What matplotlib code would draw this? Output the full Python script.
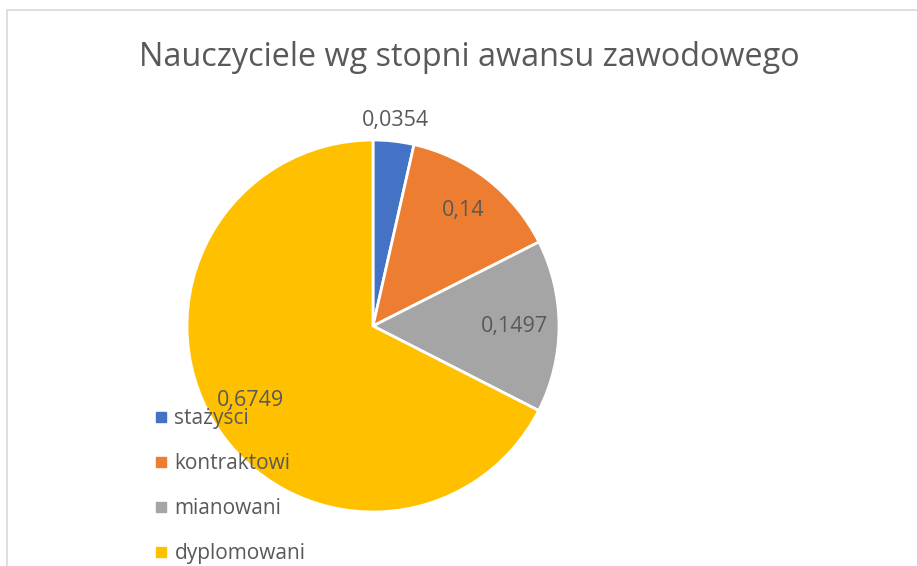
import matplotlib.pyplot as plt
from matplotlib.lines import Line2D
from matplotlib.patches import Rectangle
import numpy as np

# data
categories = ['stażyści', 'kontraktowi', 'mianowani', 'dyplomowani']
values = [0.0354, 0.14, 0.1497, 0.6749]
value_labels = ['0,0354', '0,14', '0,1497', '0,6749']
colors = ['#4472C4', '#ED7D31', '#A5A5A5', '#FFC000']
label_dist = [1.11, 0.79, 0.76, 0.77]

plt.rcParams['font.family'] = ['Open Sans', 'DejaVu Sans']
text_color = '#595959'

fig = plt.figure(figsize=(9.17, 5.66), dpi=100)
fig.patch.set_facecolor('white')

# chart area border (only top and left are inside the picture)
fig.patches.append(Rectangle((7 / 917, -0.1), 1.2, 1 - 10 / 566 + 0.1,
                             transform=fig.transFigure, fill=False,
                             edgecolor='#D9D9D9', lw=1.2))

ax = fig.add_axes([187 / 917, 54 / 566, 372 / 917, 372 / 566])
wedges, _ = ax.pie(values, colors=colors, startangle=90, counterclock=False,
                   radius=1, wedgeprops=dict(edgecolor='white', linewidth=2))
ax.set_xlim(-1, 1)
ax.set_ylim(-1, 1)
ax.set_aspect('equal')
ax.axis('off')

for w, lab, d in zip(wedges, value_labels, label_dist):
    ang = np.deg2rad((w.theta1 + w.theta2) / 2)
    ax.text(d * np.cos(ang), d * np.sin(ang), lab, ha='center', va='center',
            fontsize=15.5, color=text_color, clip_on=False)

fig.text(469 / 917, 1 - 57 / 566, 'Nauczyciele wg stopni awansu zawodowego',
         ha='center', va='center', fontsize=23.3, color=text_color)

handles = [Line2D([], [], marker='s', linestyle='', color=c, markersize=7)
           for c in colors]
leg = fig.legend(handles, categories, loc='upper left',
                 bbox_to_anchor=(140 / 917, 1 - 400 / 566), frameon=False,
                 fontsize=15, labelspacing=1.15, handletextpad=0.05,
                 handlelength=1.2, borderaxespad=0)
for t in leg.get_texts():
    t.set_color(text_color)

plt.savefig('out.png', dpi=100)
